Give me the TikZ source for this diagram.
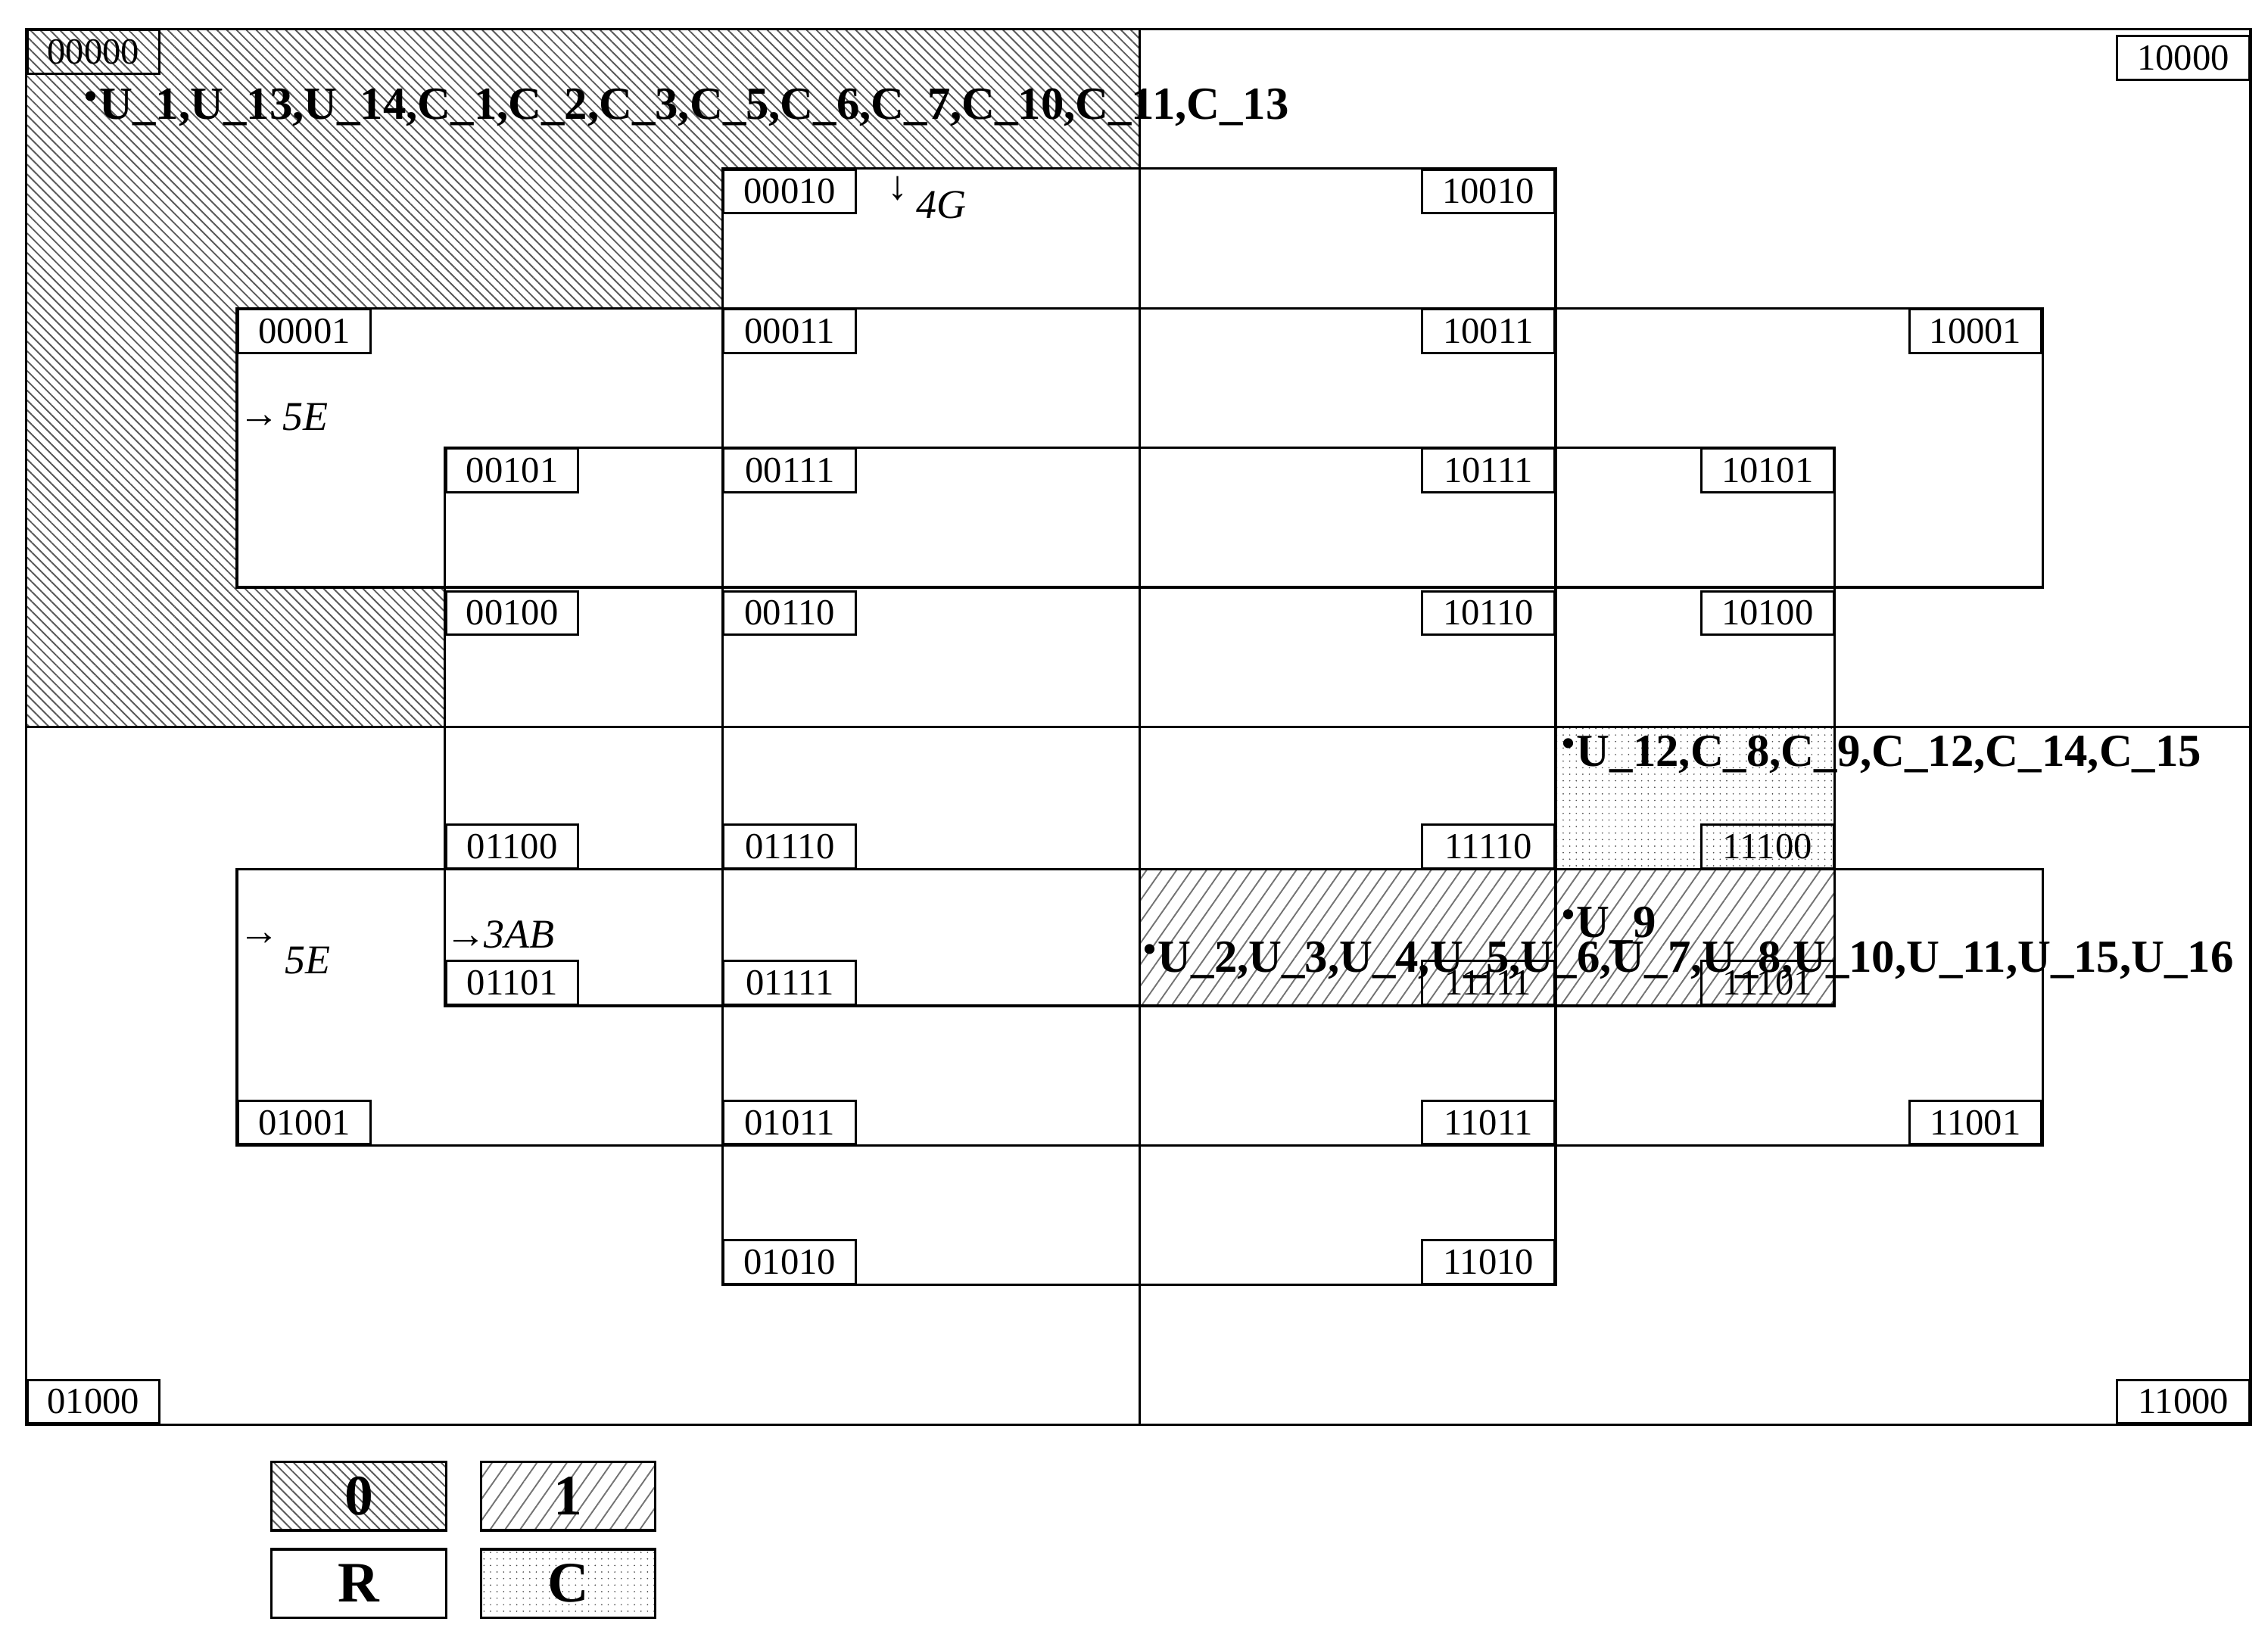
\documentclass[tikz,border=0pt]{standalone}
\usepackage{fontspec}
\setmainfont{Liberation Serif}
\usetikzlibrary{patterns.meta}
\tikzset{
  ln/.style={line width=1.2pt},
  lbl/.style={draw,line width=1.1pt,inner sep=0pt,minimum width=22.75mm,minimum height=7.5mm,font=\fontsize{18}{18}\selectfont},
  zero/.style={pattern={Lines[angle=-45,distance=3.4pt,line width=0.7pt]},pattern color=black!65},
  one/.style={pattern={Lines[angle=55,distance=6pt,line width=0.7pt]},pattern color=black!55},
  cdot/.style={pattern={Dots[distance=3.2pt,radius=0.35pt]},pattern color=black!70},
  big/.style={font=\fontsize{22.5}{22.5}\selectfont\bfseries,inner sep=0pt},
  ital/.style={font=\fontsize{20}{20}\selectfont\itshape,inner sep=0pt},
  leg/.style={draw,line width=1.2pt,minimum width=30mm,minimum height=11.75mm,inner sep=0pt,font=\fontsize{28}{28}\selectfont\bfseries}
}
\newcommand{\bul}{\raisebox{0.5ex}{\scalebox{0.8}{•}}\kern1pt}
\begin{document}
\begin{tikzpicture}[x=0.25mm,y=-0.25mm]
\useasboundingbox (0,0) rectangle (1560,1122);
% fills
\fill[zero] (18,20)--(784,20)--(784,116)--(497,116)--(497,212)--(163,212)--(163,404)--(306,404)--(306,500)--(18,500)--cycle;
\fill[one] (784,598) rectangle (1262,692);
\fill[cdot] (1070,500) rectangle (1262,598);
% lines
\draw[ln] (18,20) rectangle (1548,980);
\draw[ln] (784,20)--(784,980);
\draw[ln] (18,500)--(1548,500);
\draw[ln] (497,116) rectangle (1070,884);
\draw[ln] (163,212) rectangle (1405,404);
\draw[ln] (163,598) rectangle (1405,788);
\draw[ln] (306,308) rectangle (1262,692);
% labels top
\node[lbl,anchor=north west] (a00000) at (18,20) {00000};
\node[lbl,anchor=north east] (a10000) at (1548,24) {10000};
\node[lbl,anchor=north west] (a00010) at (497,116) {00010};
\node[lbl,anchor=north east] (a10010) at (1070,116) {10010};
\node[lbl,anchor=north west] (a00001) at (163,212) {00001};
\node[lbl,anchor=north west] (a00011) at (497,212) {00011};
\node[lbl,anchor=north east] (a10011) at (1070,212) {10011};
\node[lbl,anchor=north east] (a10001) at (1405,212) {10001};
\node[lbl,anchor=north west] (a00101) at (306,308) {00101};
\node[lbl,anchor=north west] (a00111) at (497,308) {00111};
\node[lbl,anchor=north east] (a10111) at (1070,308) {10111};
\node[lbl,anchor=north east] (a10101) at (1262,308) {10101};
\node[lbl,anchor=north west] (a00100) at (306,406) {00100};
\node[lbl,anchor=north west] (a00110) at (497,406) {00110};
\node[lbl,anchor=north east] (a10110) at (1070,406) {10110};
\node[lbl,anchor=north east] (a10100) at (1262,406) {10100};
% labels bottom
\node[lbl,anchor=south west] (a01100) at (306,598) {01100};
\node[lbl,anchor=south west] (a01110) at (497,598) {01110};
\node[lbl,anchor=south east] (a11110) at (1070,598) {11110};
\node[lbl,anchor=south east] (a11100) at (1262,598) {11100};
\node[lbl,anchor=south west] (a01101) at (306,692) {01101};
\node[lbl,anchor=south west] (a01111) at (497,692) {01111};
\node[lbl,anchor=south east] (a11111) at (1070,692) {11111};
\node[lbl,anchor=south east] (a11101) at (1262,692) {11101};
\node[lbl,anchor=south west] (a01001) at (163,788) {01001};
\node[lbl,anchor=south west] (a01011) at (497,788) {01011};
\node[lbl,anchor=south east] (a11011) at (1070,788) {11011};
\node[lbl,anchor=south east] (a11001) at (1405,788) {11001};
\node[lbl,anchor=south west] (a01010) at (497,884) {01010};
\node[lbl,anchor=south east] (a11010) at (1070,884) {11010};
\node[lbl,anchor=south west] (a01000) at (18,980) {01000};
\node[lbl,anchor=south east] (a11000) at (1548,980) {11000};
% texts
\node[big,anchor=base west] (t1) at (58,82) {\bul U\_1,U\_13,U\_14,C\_1,C\_2,C\_3,C\_5,C\_6,C\_7,C\_10,C\_11,C\_13};
\node[big,anchor=base west] (t2) at (1074,527) {\bul U\_12,C\_8,C\_9,C\_12,C\_14,C\_15};
\node[big,anchor=base west] (t3) at (1074,645) {\bul U\_9};
\node[big,anchor=base west] (t4) at (786,669) {\bul U\_2,U\_3,U\_4,U\_5,U\_6,U\_7,U\_8,U\_10,U\_11,U\_15,U\_16};
\node[ital,anchor=base west] (g1) at (610,137) {\upshape↓};
\node[ital,anchor=base west] (g2) at (630,150) {4G};
\node[ital,anchor=base west] (e1) at (164,294) {\upshape→};
\node[ital,anchor=base west] (e1b) at (194,296) {5E};
\node[ital,anchor=base west] (e2) at (164,650) {\upshape→};
\node[ital,anchor=base west] (e2b) at (196,670) {5E};
\node[ital,anchor=base west] (ab) at (306,652) {\upshape→\kern-1pt\itshape 3AB};
% legend
\node[leg,zero,anchor=north west] (l0) at (186,1005) {0};
\node[leg,one,anchor=north west] (l1) at (330,1005) {1};
\node[leg,anchor=north west] (lr) at (186,1065) {R};
\node[leg,cdot,anchor=north west] (lc) at (330,1065) {C};
\end{tikzpicture}
\end{document}
